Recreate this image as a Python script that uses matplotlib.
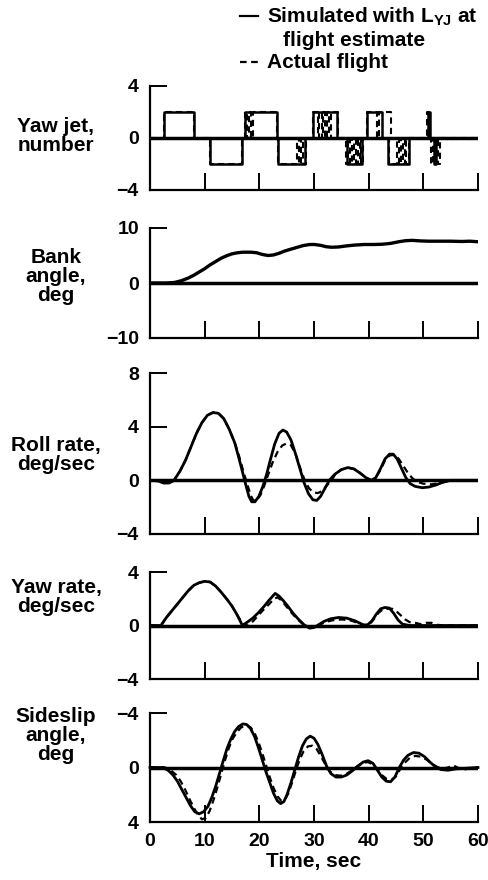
import numpy as np
import matplotlib
matplotlib.use("Agg")
import matplotlib.pyplot as plt
from matplotlib.lines import Line2D

plt.rcParams['font.family'] = ['Liberation Sans', 'DejaVu Sans']
plt.rcParams['font.weight'] = 'bold'
plt.rcParams['mathtext.fontset'] = 'custom'
plt.rcParams['mathtext.rm'] = 'Liberation Sans:bold'
plt.rcParams['mathtext.it'] = 'Liberation Sans:bold'
plt.rcParams['mathtext.bf'] = 'Liberation Sans:bold'

# ---------------- data ----------------
x_ticks = [0, 10, 20, 30, 40, 50, 60]

# Yaw jet pulses: (start, end, level)
sim_jet_pulses = [(2.5, 8.0, 2), (10.9, 16.8, -2), (17.4, 23.2, 2), (23.5, 28.4, -2),
                  (29.9, 34.2, 2), (36.0, 38.8, -2), (39.7, 42.4, 2), (43.6, 47.3, -2),
                  (50.9, 51.3, 2), (51.9, 52.4, -2)]
act_jet_pulses = [(2.5, 8.0, 2), (10.9, 16.8, -2), (17.4, 17.8, 2), (18.1, 18.5, 2),
                  (18.8, 23.2, 2), (23.5, 26.9, -2), (27.2, 27.6, -2), (27.9, 28.5, -2),
                  (29.9, 30.7, 2), (31.0, 31.4, 2), (31.7, 32.1, 2), (32.4, 32.8, 2),
                  (33.1, 34.3, 2), (35.9, 36.3, -2), (36.6, 37.0, -2), (37.3, 37.7, -2),
                  (38.0, 38.4, -2), (38.6, 39.0, -2), (39.7, 41.6, 2), (41.9, 44.0, 2),
                  (43.7, 45.2, -2), (45.5, 45.9, -2), (46.2, 46.6, -2), (46.9, 47.4, -2),
                  (50.6, 51.0, 2), (51.4, 51.8, -2), (52.6, 53.0, -2)]

# Bank angle (deg)
bank_t = [0, 3, 4.5, 5.7, 7, 8, 9, 10, 11, 12, 13, 14, 15, 16, 17, 18.5, 19.5, 20.5, 21.6,
          22.6, 23.6, 24.6, 25.6, 26.8, 28, 29.2, 30.1, 31.2, 32.2, 33.2, 34.5, 36, 37.5,
          39.2, 41, 42.5, 44, 45.5, 46.8, 48, 49.5, 51, 53, 55, 57, 58.5, 60]
bank_sim = [0, 0, 0.1, 0.4, 0.9, 1.4, 2.0, 2.6, 3.3, 3.9, 4.5, 4.95, 5.3, 5.5, 5.6, 5.6,
            5.5, 5.2, 5.0, 5.1, 5.4, 5.8, 6.1, 6.45, 6.8, 7.0, 7.0, 6.85, 6.6, 6.5, 6.55,
            6.75, 6.9, 7.0, 7.0, 7.05, 7.2, 7.5, 7.7, 7.75, 7.65, 7.6, 7.6, 7.6, 7.55, 7.6,
            7.5]

# Roll rate (deg/sec)
roll_t_sim = [0, 1.5, 2.5, 3.5, 4.4, 5.5, 6.5, 7.5, 8.5, 9.5, 10.5, 11.5, 12.5, 13.5,
              14.5, 15.5, 16.3, 17.0, 17.5, 18.1, 18.6, 19.2, 19.9, 20.6, 21.3, 22.0, 22.8,
              23.6, 24.3, 25.0, 25.8, 26.6, 27.4, 28.2, 29.0, 29.8, 30.5, 31.2, 32.0, 32.8,
              33.8, 35.0, 36.2, 37.3, 38.4, 39.5, 40.5, 41.3, 42.2, 43.0, 43.8, 44.5, 45.2,
              46.0, 46.8, 47.6, 48.5, 49.8, 51.0, 52.3, 53.5, 55, 60]
roll_sim = [0, -0.05, -0.2, -0.2, 0, 0.7, 1.5, 2.5, 3.5, 4.3, 4.85, 5.05, 5.0, 4.6,
            3.8, 2.8, 1.6, 0.5, -0.3, -1.2, -1.6, -1.6, -1.2, -0.5, 0.4, 1.5, 2.7,
            3.5, 3.75, 3.6, 3.0, 2.0, 0.9, -0.2, -1.0, -1.45, -1.5, -1.2, -0.6, 0,
            0.45, 0.8, 0.95, 0.85, 0.55, 0.2, 0, 0.2, 0.9, 1.6, 1.95, 1.95, 1.6,
            0.9, 0.2, -0.25, -0.45, -0.55, -0.5, -0.35, -0.15, 0, 0]
roll_t_act = [0, 1.5, 2.5, 3.5, 4.4, 5.5, 6.5, 7.5, 8.5, 9.5, 10.5, 11.5, 12.5, 13.5,
              14.5, 15.5, 16.3, 17.2, 17.8, 18.4, 18.9, 19.5, 20.2, 20.9, 21.6, 22.4, 23.3,
              24.2, 25.0, 25.8, 26.6, 27.4, 28.3, 29.1, 29.9, 30.7, 31.5, 32.3, 33.2, 33.8,
              35.0, 36.2, 37.3, 38.4, 39.5, 40.5, 41.3, 42.2, 43.0, 43.8, 44.7, 45.5, 46.3,
              47.1, 47.9, 48.8, 50.0, 51.5, 53.0, 54.5, 56, 60]
roll_act = [0, -0.05, -0.2, -0.2, 0, 0.7, 1.5, 2.5, 3.5, 4.3, 4.85, 5.05, 5.0, 4.6,
            3.8, 2.8, 1.8, 0.5, -0.3, -1.1, -1.5, -1.5, -1.1, -0.4, 0.4, 1.3, 2.1,
            2.6, 2.75, 2.6, 2.0, 1.0, 0, -0.6, -0.9, -0.95, -0.8, -0.4, 0, 0.4,
            0.8, 0.95, 0.85, 0.55, 0.2, 0, 0.2, 0.8, 1.5, 1.85, 1.9, 1.6, 1.1,
            0.6, 0.2, -0.1, -0.25, -0.3, -0.2, -0.05, 0, 0]

# Yaw rate (deg/sec)
yaw_t_sim = [0, 2.0, 3.0, 4.0, 5.0, 6.0, 7.0, 8.0, 9.0, 10.0, 11.0, 12.0, 13.0, 14.0, 15.0,
             16.0, 16.9, 17.8, 18.8, 19.8, 20.8, 21.8, 22.9, 23.6, 24.4, 25.3, 26.2, 27.2,
             28.2, 29.2, 30.0, 30.8, 31.8, 33.0, 34.5, 36.0, 37.5, 39.0, 39.8, 40.6, 41.4,
             42.2, 43.0, 43.8, 44.6, 45.4, 46.2, 47.5, 60]
yaw_sim = [0, 0, 0.6, 1.1, 1.6, 2.1, 2.6, 3.0, 3.2, 3.3, 3.25, 2.95, 2.5, 2.0, 1.45,
           0.75, 0, 0.25, 0.55, 0.95, 1.4, 1.9, 2.4, 2.2, 1.85, 1.4, 0.9, 0.45,
           0.05, -0.2, -0.15, 0.05, 0.3, 0.5, 0.6, 0.55, 0.35, 0.05, 0.05, 0.35, 0.85,
           1.25, 1.35, 1.3, 0.9, 0.4, 0.1, 0, 0]
yaw_t_act = [0, 2.0, 3.0, 4.0, 5.0, 6.0, 7.0, 8.0, 9.0, 10.0, 11.0, 12.0, 13.0, 14.0, 15.0,
             16.2, 17.2, 18.0, 18.8, 19.8, 20.8, 21.8, 22.7, 23.3, 24.0, 25.0, 26.0, 27.0,
             28.0, 29.0, 30.0, 30.8, 32.0, 33.5, 35.0, 36.5, 38.0, 39.3, 40.2, 41.0, 41.8,
             42.6, 43.4, 44.3, 45.1, 45.9, 46.7, 47.5, 48.5, 49.5, 50.5, 51.5, 52.5, 54.0, 60]
yaw_act = [0, 0, 0.6, 1.1, 1.6, 2.1, 2.6, 3.0, 3.2, 3.3, 3.25, 2.95, 2.5, 2.0, 1.45,
           0.6, 0.05, 0.0, 0.3, 0.75, 1.2, 1.6, 2.0, 2.1, 1.9, 1.4, 0.9, 0.45,
           0.1, -0.15, -0.15, 0, 0.25, 0.4, 0.45, 0.4, 0.2, 0, 0.1, 0.5, 0.95,
           1.2, 1.25, 1.25, 1.05, 0.75, 0.45, 0.25, 0.2, 0.1, 0.2, 0.2, 0.05, 0, 0]

# Sideslip angle (deg)
beta_t_sim = [0, 2.4, 3.3, 4.2, 5.0, 5.8, 6.6, 7.4, 8.2, 9.0, 9.8, 10.6, 11.3, 12.0, 12.7,
              13.4, 14.1, 14.8, 15.5, 16.2, 17.0, 17.7, 18.4, 19.1, 19.8, 20.5, 21.2, 21.9,
              22.6, 23.3, 23.9, 24.5, 25.1, 25.8, 26.5, 27.2, 27.9, 28.6, 29.3, 30.0, 30.7,
              31.5, 32.3, 33.1, 34.0, 35.0, 36.0, 37.0, 38.0, 39.0, 39.9, 40.8, 41.6, 42.4,
              43.2, 44.0, 44.8, 45.6, 46.4, 47.2, 48.2, 49.2, 50.2, 51.2, 52.2, 53.2, 54.5,
              56, 58, 60]
beta_sim = [0, 0, 0.2, 0.55, 1.0, 1.6, 2.2, 2.8, 3.25, 3.4, 3.25, 2.85, 2.2, 1.4, 0.45,
            -0.5, -1.4, -2.1, -2.65, -3.0, -3.2, -3.15, -2.85, -2.3, -1.5, -0.6, 0.3, 1.1,
            1.9, 2.45, 2.65, 2.5, 1.95, 1.1, 0.15, -0.8, -1.6, -2.1, -2.3, -2.15, -1.7,
            -0.95, -0.1, 0.45, 0.7, 0.7, 0.55, 0.25, -0.1, -0.4, -0.5, -0.3, 0.2, 0.7,
            1.0, 1.05, 0.7, 0.0, -0.55, -0.9, -1.1, -1.05, -0.8, -0.4, -0.05, 0.15, 0.2,
            0.1, 0.05, 0]
beta_t_act = [0, 2.8, 3.8, 4.8, 5.6, 6.4, 7.2, 8.0, 8.8, 9.5, 10.2, 10.9, 11.6, 12.3, 13.0,
              13.7, 14.4, 15.1, 15.9, 16.7, 17.6, 18.4, 19.1, 19.8, 20.5, 21.2, 21.9, 22.6,
              23.3, 24.0, 24.7, 25.3, 26.0, 26.7, 27.4, 28.1, 28.9, 29.7, 30.5, 31.3, 32.1,
              32.9, 33.8, 34.8, 35.8, 36.8, 37.8, 38.8, 39.8, 40.7, 41.6, 42.4, 43.3, 44.2,
              45.0, 45.8, 46.6, 47.5, 48.5, 49.5, 50.5, 51.5, 52.5, 53.5, 54.5, 55.5, 56.5,
              57.5, 58.5, 60]
beta_act = [0, 0, 0.2, 0.55, 1.0, 1.6, 2.3, 2.95, 3.5, 3.8, 3.7, 3.2, 2.4, 1.5, 0.5,
            -0.5, -1.4, -2.1, -2.6, -2.95, -3.1, -2.95, -2.55, -1.9, -1.1, -0.2, 0.7, 1.5,
            2.1, 2.45, 2.35, 1.9, 1.1, 0.2, -0.6, -1.2, -1.55, -1.6, -1.35, -0.8, -0.2,
            0.3, 0.55, 0.6, 0.5, 0.25, -0.05, -0.3, -0.4, -0.25, 0.15, 0.55, 0.85, 0.9,
            0.65, 0.1, -0.35, -0.7, -0.85, -0.8, -0.6, -0.3, -0.05, 0.1, 0.0, -0.15, 0.05,
            0.15, 0.05, 0]

panel_labels = ["Yaw jet,\nnumber", "Bank\nangle,\ndeg", "Roll rate,\ndeg/sec",
                "Yaw rate,\ndeg/sec", "Sideslip\nangle,\ndeg"]
y_ticks = [[-4, 0, 4], [-10, 0, 10], [-4, 0, 4, 8], [-4, 0, 4], [-4, 0, 4]]
y_lims = [(-4, 4), (-10, 10), (-4, 8), (-4, 4), (4, -4)]
x_label = "Time, sec"
legend_sim = r"Simulated with $\mathrm{L_{YJ}}$ at"
legend_sim2 = "flight estimate"
legend_act = "Actual flight"


def steps(pulses):
    t, y = [0.0], [0.0]
    for s, e, v in pulses:
        t += [s, s, e, e]
        y += [0, v, v, 0]
    t.append(60.0)
    y.append(0.0)
    return t, y


# ---------------- layout ----------------
W, H = 489, 880
fig = plt.figure(figsize=(W / 100, H / 100), dpi=100)
FS = 15
TFS = 14

left_px, right_px = 150, 478
panels_px = [(86, 190), (228, 338), (373, 534), (572, 679), (713, 822)]
label_y_px = [136, 276, 455, 597, 735]

axes = []
for i, (top, bot) in enumerate(panels_px):
    ax = fig.add_axes([left_px / W, 1 - bot / H, (right_px - left_px) / W, (bot - top) / H])
    axes.append(ax)
    ax.set_xlim(0, 60)
    ax.set_ylim(*y_lims[i])
    ax.set_xticks(x_ticks)
    ax.set_yticks(y_ticks[i])
    for s in ['top', 'right']:
        ax.spines[s].set_visible(False)
    for s in ['left', 'bottom']:
        ax.spines[s].set_linewidth(1.6)
    ax.tick_params(direction='in', length=12, width=1.4, labelsize=TFS, pad=8)
    ax.set_yticklabels([("\u2212" + str(-v)) if v < 0 else str(v) for v in y_ticks[i]],
                       fontweight='bold')
    if i < 4:
        ax.set_xticklabels([])
    else:
        ax.set_xticklabels([str(v) for v in x_ticks], fontweight='bold')
        ax.set_xlabel(x_label, fontsize=FS, fontweight='bold', labelpad=1)
    ax.axhline(0, color='black', lw=2.5, zorder=1)
    ax.patch.set_visible(False)
    fig.text(56 / W, 1 - label_y_px[i] / H, panel_labels[i], ha='center', va='center',
             fontsize=FS, fontweight='bold', linespacing=1.0)

dash = (0, (3, 2))
lw_s, lw_d = 2.0, 1.6

t, y = steps(sim_jet_pulses)
axes[0].plot(t, y, color='black', lw=1.8)
t, y = steps(act_jet_pulses)
axes[0].plot(t, y, color='black', lw=1.5, linestyle=dash)

axes[1].plot(bank_t, bank_sim, color='black', lw=2.4)

axes[2].plot(roll_t_sim, roll_sim, color='black', lw=lw_s)
axes[2].plot(roll_t_act, roll_act, color='black', lw=lw_d, linestyle=dash)

axes[3].plot(yaw_t_sim, yaw_sim, color='black', lw=lw_s)
axes[3].plot(yaw_t_act, yaw_act, color='black', lw=lw_d, linestyle=dash)

axes[4].plot(beta_t_sim, beta_sim, color='black', lw=lw_s, clip_on=False)
axes[4].plot(beta_t_act, beta_act, color='black', lw=lw_d, linestyle=dash, clip_on=False)

# legend
fig.add_artist(Line2D([240 / W, 258 / W], [1 - 16 / H, 1 - 16 / H], color='black', lw=1.6))
fig.add_artist(Line2D([240 / W, 258 / W], [1 - 62 / H, 1 - 62 / H], color='black', lw=1.6,
                      linestyle=(0, (3, 2))))
fig.text(267 / W, 1 - 17 / H, legend_sim, ha='left', va='center', fontsize=FS, fontweight='bold')
fig.text(283 / W, 1 - 40 / H, legend_sim2, ha='left', va='center', fontsize=FS, fontweight='bold')
fig.text(267 / W, 1 - 62 / H, legend_act, ha='left', va='center', fontsize=FS, fontweight='bold')

fig.savefig("out.png", dpi=100)
